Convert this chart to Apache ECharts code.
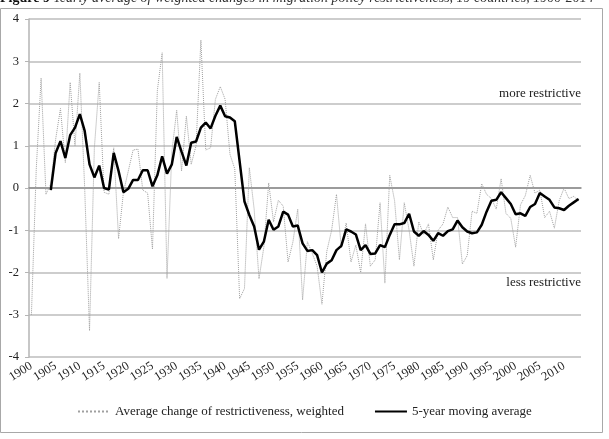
<!DOCTYPE html>
<html>
<head>
<meta charset="utf-8">
<script src="https://cdn.jsdelivr.net/npm/echarts@6/dist/echarts.min.js"></script>
<style>
  html, body { margin: 0; padding: 0; background: #fff; }
  #main { width: 609px; height: 439px; }
</style>
</head>
<body>
<div id="main"></div>
<script>
// years 1900..2013
const years = [];
for (let y = 1900; y <= 2013; y++) years.push(String(y));

// yearly average change of restrictiveness (dotted grey)
const yearly = [
  -3.0, 0.45, 2.6, -0.15, 0.1, 1.15, 1.88, 0.6, 2.5, 1.0,
  2.72, 0.0, -3.38, 0.95, 2.5, -0.1, -0.15, 0.95, -1.2, -0.1,
  0.4, 0.9, 0.92, -0.05, -0.12, -1.45, 2.3, 3.2, -2.14, 0.85,
  1.84, 0.4, 1.7, 0.56, 1.0, 3.5, 0.9, 0.95, 2.1, 2.4,
  2.1, 0.8, 0.45, -2.62, -2.38, 0.48, -0.5, -2.15, -1.4, 0.12,
  -0.8, -0.29, -0.43, -1.75, -1.28, -0.5, -2.65, -1.27, -1.55, -1.85,
  -2.75, -1.5, -1.0, -0.15, -1.42, -0.83, -1.75, -1.35, -2.0, -0.85,
  -1.85, -1.7, -0.35, -2.25, 0.3, -0.3, -1.7, -0.35, -1.0, -1.85,
  -0.8, -1.1, -0.85, -1.7, -1.0, -0.85, -0.45, -0.7, -0.7, -1.8,
  -1.6, -0.55, -0.6, 0.1, -0.15, -0.25, -0.5, 0.22, -0.6, -0.72,
  -1.4, -0.4, -0.18, 0.3, -0.12, -0.05, -0.7, -0.55, -0.95, -0.3,
  0.0, -0.25, -0.2, -0.3
];

// 5-year moving average (thick black), starts 1904
const movingAvg = [
  '-', '-', '-', '-', -0.05, 0.83, 1.11, 0.71, 1.25, 1.43,
  1.75, 1.35, 0.56, 0.25, 0.53, 0.0, -0.04, 0.83, 0.4, -0.1,
  -0.02, 0.19, 0.19, 0.42, 0.42, 0.04, 0.3, 0.75, 0.34, 0.56,
  1.21, 0.86, 0.53, 1.07, 1.1, 1.43, 1.55, 1.41, 1.71, 1.95,
  1.7, 1.67, 1.58, 0.63, -0.32, -0.64, -0.91, -1.46, -1.27, -0.75,
  -0.99, -0.91, -0.56, -0.63, -0.91, -0.89, -1.31, -1.49, -1.47, -1.59,
  -2.0, -1.79, -1.71, -1.47, -1.37, -0.98, -1.03, -1.1, -1.47, -1.35,
  -1.56, -1.55, -1.35, -1.4, -1.11, -0.86, -0.86, -0.83, -0.61, -1.03,
  -1.13, -1.02, -1.11, -1.25, -1.07, -1.13, -1.02, -0.98, -0.77, -0.93,
  -1.03, -1.07, -1.05, -0.87, -0.56, -0.3, -0.28, -0.1, -0.24, -0.38,
  -0.62, -0.6, -0.66, -0.45, -0.38, -0.12, -0.2, -0.28, -0.46, -0.48,
  -0.52, -0.42, -0.34, -0.26
];

const serif = '"Liberation Serif", "DejaVu Serif", serif';

const chart = echarts.init(document.getElementById('main'));
chart.setOption({
  animation: false,
  backgroundColor: '#fff',
  textStyle: { fontFamily: serif },
  grid: { left: 29, right: 28, top: 19, bottom: 82, outerBoundsMode: 'none' },
  xAxis: [
    {
      // zero line with ticks every 5 years
      type: 'category',
      data: years,
      boundaryGap: true,
      axisLine: { onZero: true, lineStyle: { color: '#8a8a8a', width: 1.5 } },
      axisTick: { interval: 4, length: 4, lineStyle: { color: '#555', width: 1 } },
      axisLabel: { show: false },
      splitLine: { show: false }
    },
    {
      // labels at the bottom
      type: 'category',
      data: years,
      position: 'bottom',
      boundaryGap: true,
      axisLine: { show: false, onZero: false },
      axisTick: { show: false },
      axisLabel: {
        interval: 4,
        rotate: 32,
        margin: 8,
        fontSize: 12.5,
        color: '#222',
        fontFamily: serif
      },
      splitLine: { show: false }
    }
  ],
  yAxis: {
    type: 'value',
    min: -4,
    max: 4,
    interval: 1,
    axisLine: { show: true, lineStyle: { color: '#b5b5b5', width: 1.5 } },
    axisTick: { show: true, length: 4, lineStyle: { color: '#b5b5b5' } },
    axisLabel: { fontSize: 12.5, color: '#222', margin: 10, fontFamily: serif },
    splitLine: { lineStyle: { color: '#bdbdbd', width: 1.5 } }
  },
  legend: {
    left: 72,
    top: 400,
    itemWidth: 32,
    itemHeight: 10,
    itemGap: 30,
    itemStyle: { opacity: 0 },
    textStyle: { fontSize: 13, color: '#222', fontFamily: serif },
    data: ['Average change of restrictiveness, weighted', '5-year moving average']
  },
  graphic: [
    {
      type: 'rect',
      shape: { x: 0.5, y: 8.5, width: 602, height: 424 },
      style: { fill: 'none', stroke: '#a8a8a8', lineWidth: 1 },
      silent: true,
      z: -10
    },
    {
      type: 'text',
      left: 0,
      top: -9,
      style: {
        text: '{b|Figure 9} {i|Yearly average of weighted changes in migration policy restrictiveness, 19 countries, 1900-2014}',
        rich: {
          b: { fontFamily: serif, fontSize: 14, fontWeight: 'bold', fill: '#111' },
          i: { fontFamily: serif, fontSize: 14, fontStyle: 'italic', fill: '#333' }
        }
      }
    },
    {
      type: 'text',
      right: 28,
      top: 87,
      style: { text: 'more restrictive', font: '13px ' + serif, fill: '#222' }
    },
    {
      type: 'text',
      right: 28,
      top: 276,
      style: { text: 'less restrictive', font: '13px ' + serif, fill: '#222' }
    }
  ],
  series: [
    {
      name: 'Average change of restrictiveness, weighted',
      type: 'line',
      data: yearly,
      showSymbol: false,
      symbol: 'none',
      lineStyle: { color: '#a0a0a0', width: 1, type: 'dotted' },
      itemStyle: { color: '#a0a0a0' },
      z: 2
    },
    {
      name: '5-year moving average',
      type: 'line',
      data: movingAvg,
      showSymbol: false,
      symbol: 'none',
      lineStyle: { color: '#000', width: 2.5 },
      itemStyle: { color: '#000' },
      z: 3
    }
  ]
});
</script>
</body>
</html>
